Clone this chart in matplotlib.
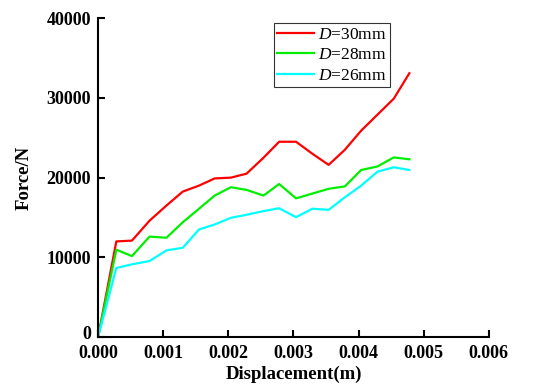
import numpy as np
import matplotlib
matplotlib.use("Agg")
import matplotlib.pyplot as plt
import matplotlib.transforms as mtrans

# displacement (m), shared by all three curves
disp = [0, 0.00028, 0.00052, 0.00079, 0.00105, 0.0013, 0.00155, 0.00179,
        0.00204, 0.00228, 0.00254, 0.00278, 0.00304, 0.00329, 0.00354,
        0.00379, 0.00404, 0.00429, 0.00454, 0.00478]

# force (N)
f30 = [0, 12000, 12100, 14600, 16500, 18250, 19000, 19900, 20000, 20500,
       22500, 24500, 24500, 23000, 21600, 23500, 25900, 27900, 29900, 33100]
f28 = [0, 10960, 10160, 12600, 12460, 14400, 16100, 17750, 18800, 18460,
       17750, 19200, 17400, 18000, 18600, 18900, 20960, 21400, 22540, 22300]
f26 = [0, 8660, 9125, 9540, 10875, 11200, 13500, 14125, 14960, 15340,
       15800, 16160, 15040, 16100, 15960, 17540, 19000, 20750, 21300, 20960]

labels = ["$\\mathit{D}$=30mm", "$\\mathit{D}$=28mm", "$\\mathit{D}$=26mm"]
colors = ["#ff0000", "#00ee00", "#00ffff"]

plt.rcParams["font.family"] = "Liberation Serif"
plt.rcParams["mathtext.fontset"] = "custom"
plt.rcParams["mathtext.it"] = "Liberation Serif:italic"
plt.rcParams["mathtext.rm"] = "Liberation Serif"

fig = plt.figure(figsize=(5.36, 3.87), dpi=100)
ax = fig.add_axes([0.183, 0.129, 0.729, 0.824])

for y, lab, c in zip([f30, f28, f26], labels, colors):
    ax.plot(disp, y, color=c, lw=1.6, label=lab)

ax.set_xlim(0, 0.006)
ax.set_ylim(0, 40000)
ax.set_xticks(np.arange(0, 0.0061, 0.001))
ax.set_yticks(np.arange(0, 40001, 10000))
ax.set_xticklabels(["%.3f" % v for v in np.arange(0, 0.0061, 0.001)])
ax.set_yticklabels(["%d" % v for v in np.arange(0, 40001, 10000)])

for s in ["top", "right"]:
    ax.spines[s].set_visible(False)
for s in ["left", "bottom"]:
    ax.spines[s].set_linewidth(1.5)

ax.tick_params(direction="in", length=5, width=1.5, labelsize=13)
ax.tick_params(axis="x", pad=6)
ax.tick_params(axis="y", pad=5)
for t in ax.get_xticklabels() + ax.get_yticklabels():
    t.set_fontweight("bold")

# nudge the y "0" label up a little so it clears "0.000"
zero = ax.get_yticklabels()[0]
zero.set_transform(zero.get_transform() +
                   mtrans.ScaledTranslation(0, 3 / 72, fig.dpi_scale_trans))

ax.set_xlabel("Displacement(m)", fontsize=13.5, fontweight="bold", labelpad=2)
ax.set_ylabel("Force/N", fontsize=13.5, fontweight="bold", labelpad=10)

leg = ax.legend(loc="upper left", bbox_to_anchor=(0.45, 0.984), fontsize=12.5,
                frameon=True, fancybox=False, edgecolor="black",
                borderaxespad=0, handlelength=2.1, handletextpad=0.25,
                borderpad=0.2, labelspacing=0.25)
leg.get_frame().set_linewidth(0.8)

fig.savefig("out.png", dpi=100)
